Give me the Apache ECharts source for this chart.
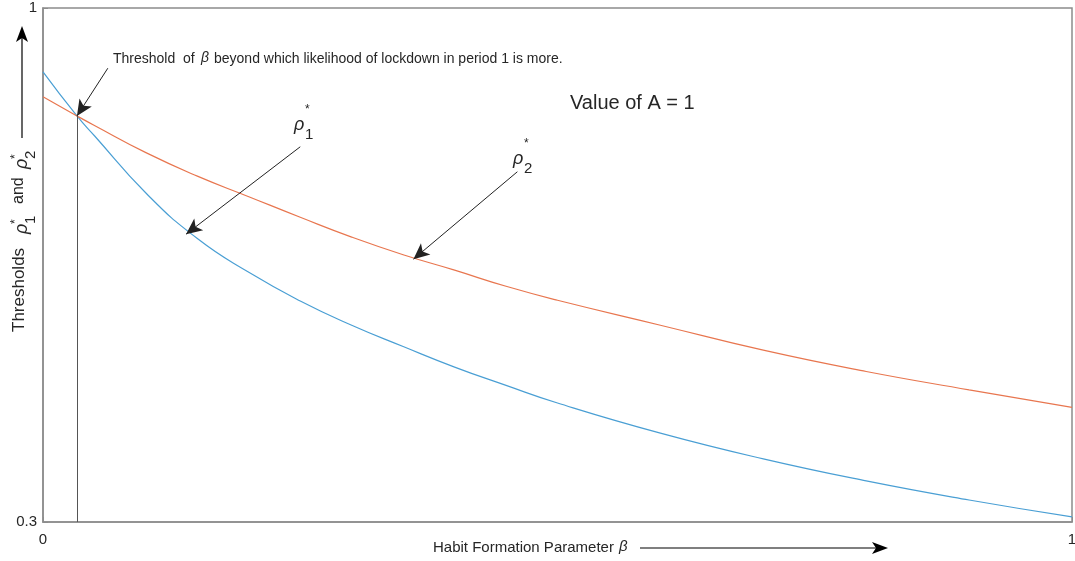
<!DOCTYPE html>
<html>
<head>
<meta charset="utf-8">
<script src="https://cdn.jsdelivr.net/npm/echarts@6/dist/echarts.min.js"></script>
<style>
  html, body { margin: 0; padding: 0; background: #fff; }
  #main { width: 1075px; height: 561px; }
</style>
</head>
<body>
<div id="main"></div>
<script>
var myChart = echarts.init(document.getElementById('main'));

// beta values (x axis)
var beta = [0, 0.033, 0.05, 0.1, 0.15, 0.2, 0.25, 0.3, 0.35, 0.4, 0.45, 0.5, 0.6, 0.7, 0.8, 0.9, 1.0];
// rho_1* (blue)
var rho1 = [0.913, 0.853, 0.826, 0.748, 0.686, 0.640, 0.601, 0.568, 0.539, 0.511, 0.486, 0.462, 0.421, 0.386, 0.356, 0.330, 0.307];
// rho_2* (red)
var rho2 = [0.879, 0.853, 0.840, 0.803, 0.771, 0.743, 0.715, 0.688, 0.664, 0.643, 0.621, 0.602, 0.568, 0.534, 0.505, 0.480, 0.456];
// tick labels
var xTicks = [0, 1];
var yTicks = [0.3, 1];
// annotation anchors [beta, value]
var crossPoint = [0.033, 0.853];
var arrowThreshold = [[0.063, 0.918], [0.033, 0.853]];
var arrowRho1 = [[0.250, 0.811], [0.139, 0.692]];
var arrowRho2 = [[0.461, 0.777], [0.360, 0.658]];

function pairs(xs, ys) {
    var out = [];
    for (var i = 0; i < xs.length; i++) {
        out.push([xs[i], ys[i]]);
    }
    return out;
}

function arrowLine(seg) {
    return [
        { coord: seg[0], symbol: 'none' },
        { coord: seg[1], symbol: 'arrow', symbolSize: [11, 16] }
    ];
}

var font = 'Liberation Sans, Arial, sans-serif';
var txt = '#262626';

function t(x, y, s, size, extra) {
    var st = { text: s, x: x, y: y, fill: txt, font: (size || 16) + 'px ' + font };
    if (extra) { for (var k in extra) st[k] = extra[k]; }
    return { type: 'text', style: st, silent: true };
}

option = {
    animation: false,
    backgroundColor: '#fff',
    grid: {
        left: 43, right: 3, top: 8, bottom: 39,
        outerBoundsMode: 'none',
        containLabel: false,
        show: true, borderColor: '#8c8c8c', borderWidth: 1.5
    },
    xAxis: {
        type: 'value', min: 0, max: 1,
        splitLine: { show: false },
        axisLine: { show: true, lineStyle: { color: '#8c8c8c', width: 1.5 } },
        axisTick: { show: true, inside: true, length: 5, customValues: xTicks, lineStyle: { color: '#8c8c8c' } },
        axisLabel: { customValues: xTicks, color: txt, fontSize: 15, fontFamily: font, margin: 10 }
    },
    yAxis: {
        type: 'value', min: 0.3, max: 1,
        splitLine: { show: false },
        axisLine: { show: true, lineStyle: { color: '#8c8c8c', width: 1.5 } },
        axisTick: { show: true, inside: true, length: 5, customValues: yTicks, lineStyle: { color: '#8c8c8c' } },
        axisLabel: {
            customValues: yTicks, color: txt, fontSize: 15, fontFamily: font, margin: 6,
            formatter: function (v) { return v === 1 ? '1' : String(v); }
        }
    },
    series: [{
        type: 'line',
        data: pairs(beta, rho1),
        smooth: true,
        showSymbol: false,
        lineStyle: { color: '#4a9fd4', width: 1.2 },
        z: 3,
        markLine: {
            silent: true,
            animation: false,
            label: { show: false },
            lineStyle: { color: '#222', width: 1, type: 'solid' },
            data: [
                [{ coord: [crossPoint[0], 0.3], symbol: 'none', lineStyle: { color: '#555' } }, { coord: crossPoint, symbol: 'none' }],
                arrowLine(arrowThreshold),
                arrowLine(arrowRho1),
                arrowLine(arrowRho2)
            ]
        }
    }, {
        type: 'line',
        data: pairs(beta, rho2),
        smooth: true,
        showSymbol: false,
        lineStyle: { color: '#e8764f', width: 1.2 },
        z: 3
    }],
    graphic: [
        // annotation texts
        t(113, 52, 'Threshold  of', 14),
        t(201, 51, 'β', 14, { font: 'italic 14px ' + font }),
        t(214, 52, 'beyond which likelihood of lockdown in period 1 is more.', 14),
        t(570, 93, 'Value of A = 1', 20),
        // rho_1* label
        t(294, 116, 'ρ', 18, { font: 'italic 18px ' + font }),
        t(305, 104, '*', 12),
        t(305, 127, '1', 15),
        // rho_2* label
        t(513, 150, 'ρ', 18, { font: 'italic 18px ' + font }),
        t(524, 138, '*', 12),
        t(524, 161, '2', 15),
        // x axis title with arrow
        t(433, 540, 'Habit Formation Parameter ', 15),
        t(619, 539, 'β', 15, { font: 'italic 15px ' + font }),
        { type: 'line', silent: true, shape: { x1: 640, y1: 548, x2: 878, y2: 548 }, style: { stroke: '#000', lineWidth: 1.2 } },
        { type: 'polygon', silent: true, shape: { points: [[888, 548], [872, 542], [876, 548], [872, 554]] }, style: { fill: '#000' } },
        // y axis title with arrow (rotated)
        {
            type: 'group', x: 11, y: 332, rotation: Math.PI / 2, silent: true,
            children: [
                t(0, 0, 'Thresholds', 17),
                t(98, 2, 'ρ', 18, { font: 'italic 18px ' + font }),
                t(108, -1, '*', 12),
                t(108, 12, '1', 15),
                t(128, 0, 'and', 16),
                t(163, 2, 'ρ', 18, { font: 'italic 18px ' + font }),
                t(173, -1, '*', 12),
                t(173, 12, '2', 15),
                { type: 'line', shape: { x1: 194, y1: 11, x2: 296, y2: 11 }, style: { stroke: '#000', lineWidth: 1.2 } },
                { type: 'polygon', shape: { points: [[306, 11], [290, 5], [294, 11], [290, 17]] }, style: { fill: '#000' } }
            ]
        }
    ]
};

myChart.setOption(option);
</script>
</body>
</html>
